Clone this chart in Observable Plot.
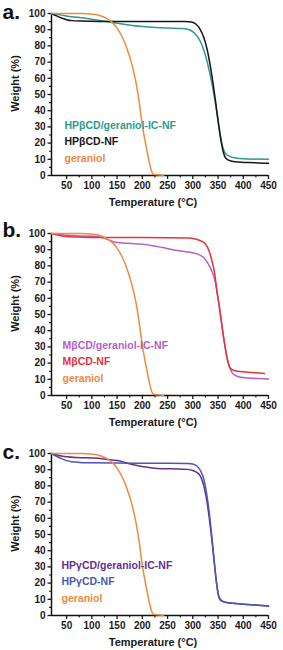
<!DOCTYPE html>
<html><head><meta charset="utf-8">
<script src="https://cdn.jsdelivr.net/npm/d3@7"></script>
<script src="https://cdn.jsdelivr.net/npm/@observablehq/plot@0.6"></script>
<style>
body{margin:0;background:#fff;width:283px;overflow:hidden;}
svg{display:block;overflow:visible;}
</style>
</head><body><div id="chart"></div>
<script>
// ---- tick labels ----
const xTicks = [50,100,150,200,250,300,350,400,450];
const xMinor = [75,125,175,225,275,325,375,425];
const yTicks = [0,10,20,30,40,50,60,70,80,90,100];
const yMinor = [5,15,25,35,45,55,65,75,85,95];
const xTitle = "Temperature (°C)";
const yTitle = "Weight (%)";

// ---- series (temperature °C, weight %) ----
const geraniol = [[20,100],[50,100],[80,100],[100,99.6],[110,99.2],[120,98.3],[130,96.8],[140,94.5],[150,91],[160,85.5],[170,78],[178,70],[185,61],[191,51],[196,40],[200,31],[205,22],[210,14],[214,8],[218,3],[222,0.8],[230,0.4],[242,0.2]];

const hpbcdIC = [[20,100],[40,99],[60,98],[80,97.4],[100,96.5],[120,95.5],[140,94.5],[160,93.5],[180,92.6],[200,92],[220,91.5],[250,91],[280,90.7],[293,90],[303,88],[312,84.5],[320,79],[327,72],[333,64],[339,55],[344,46],[349,36],[354,26],[359,18],[364,14],[372,12],[385,10.8],[400,10.3],[450,10]];
const hpbcdNF = [[20,100],[30,98.5],[40,97.2],[50,96.2],[60,95.6],[80,95.3],[100,95.2],[150,95],[200,95],[250,95],[285,95],[297,94.7],[306,93.5],[314,90.5],[322,85],[329,77],[335,67],[340,57],[345,46],[350,34],[355,23],[360,15],[366,10.5],[375,9],[390,8.3],[410,8],[450,7.5]];

const mbcdIC = [[20,100],[40,99.3],[60,98.8],[80,98.5],[100,98.3],[115,97.8],[125,97],[135,95.8],[145,94.8],[160,94.2],[180,93.8],[200,93.3],[220,92.5],[240,91.3],[260,90],[280,89],[300,88],[312,87],[322,85],[330,81.5],[338,76.5],[344,71],[348,64],[352,56],[356,47],[360,38],[364,30],[368,23],[373,17.5],[378,14],[385,12.3],[395,11.3],[420,10.6],[450,10.2]];
const mbcdNF = [[20,100],[30,99.2],[40,98.5],[50,98.1],[70,97.8],[100,97.6],[150,97.5],[200,97.5],[250,97.4],[290,97.2],[305,96.6],[315,95.5],[325,93.5],[332,89.5],[338,83],[343,76],[348,64],[352,56],[356,47],[360,38],[364,30],[368,23],[373,17.5],[378,16],[388,15],[405,14.5],[425,14],[442,13.5]];

const hpgcdIC = [[20,100],[35,98.8],[50,98],[70,97.5],[100,97.2],[120,96.8],[140,96],[160,95],[170,94],[180,93.2],[200,92],[220,91],[240,90.6],[270,90.5],[290,90.2],[300,89.5],[308,88.3],[315,86],[321,81],[326,74],[331,64],[335,54],[339,43],[343,31],[347,20],[351,12],[356,9],[370,7.8],[400,7],[430,6.3],[450,5.8]];
const hpgcdNF = [[20,100],[30,98.3],[40,96.8],[50,95.6],[60,94.9],[75,94.5],[100,94.3],[150,94.1],[200,94],[250,94],[290,93.9],[300,93.5],[308,92.3],[315,89.5],[322,84],[327,76],[332,65],[336,54],[340,42],[344,29],[348,18],[352,11.5],[358,9],[370,7.8],[400,7],[430,6.3],[450,5.8]];

// ---- panels ----
const panels = [
  {tag:"a.", height:220, top:13, tagDy:-1, legDx:13, series:[
    {name:"HPβCD/geraniol-IC-NF", color:"#2e9a8b", data:hpbcdIC},
    {name:"HPβCD-NF", color:"#161616", data:hpbcdNF},
    {name:"geraniol", color:"#f08a3e", data:geraniol}]},
  {tag:"b.", height:220, top:13, tagDy:-3.5, legDx:11, series:[
    {name:"MβCD/geraniol-IC-NF", color:"#b35fc6", data:mbcdIC},
    {name:"MβCD-NF", color:"#e3343d", data:mbcdNF},
    {name:"geraniol", color:"#f08a3e", data:geraniol}]},
  {tag:"c.", height:210, top:13, tagDy:-1, legDx:10, series:[
    {name:"HPγCD/geraniol-IC-NF", color:"#6a2d8d", data:hpgcdIC},
    {name:"HPγCD-NF", color:"#4b58b2", data:hpgcdNF},
    {name:"geraniol", color:"#f08a3e", data:geraniol}]}
];

const FONT = "'Liberation Sans', Arial, Helvetica, sans-serif";
const frameH = 162;

for (const p of panels) {
  const lines = p.series.map(s => Plot.line(s.data, {x:d=>d[0], y:d=>d[1], stroke:s.color, strokeWidth:1.5, curve:"monotone-x"}));
  const legend = p.series.map((s,i) => Plot.text([s.name], {frameAnchor:"bottom-left", dx:p.legDx, dy:-50 + i*16.5, text:d=>d, fill:s.color, fontSize:10.5, fontWeight:"bold", textAnchor:"start", lineAnchor:"middle"}));
  const svg = Plot.plot({
    width:283, height:p.height,
    marginTop:p.top, marginBottom:p.height - p.top - frameH, marginLeft:51, marginRight:15,
    x:{domain:[20,450]}, y:{domain:[0,100]},
    style:{fontFamily:FONT, fontWeight:"bold", fontSize:"10px", color:"#1a1a1a", background:"#fff", overflow:"visible"},
    marks:[
      Plot.axisX({ticks:xTicks, tickSize:4, tickPadding:2.5, label:null, strokeWidth:1.3, fontSize:10}),
      Plot.axisX({ticks:xMinor, tickSize:2.5, tickFormat:()=>"", label:null, strokeWidth:1.1}),
      Plot.axisY({ticks:yTicks, tickSize:3.5, tickPadding:2.5, label:null, strokeWidth:1.3, fontSize:10}),
      Plot.axisY({ticks:yMinor, tickSize:2, tickFormat:()=>"", label:null, strokeWidth:1.1}),
      Plot.ruleY([0], {stroke:"#111", strokeWidth:1.5}),
      Plot.ruleX([20], {stroke:"#111", strokeWidth:1.5}),
      ...lines,
      ...legend,
      Plot.text([xTitle], {frameAnchor:"bottom", dy:27, dx:-7, text:d=>d, fontSize:11, fontWeight:"bold", fill:"#1a1a1a", textAnchor:"middle", lineAnchor:"middle"}),
      Plot.text([yTitle], {frameAnchor:"left", dx:-36, dy:-11, rotate:-90, text:d=>d, fontSize:11, fontWeight:"bold", fill:"#1a1a1a", textAnchor:"middle", lineAnchor:"middle"}),
      Plot.text([p.tag], {frameAnchor:"top-left", dx:-49, dy:p.tagDy, text:d=>d, fontSize:21, fontWeight:"bold", fill:"#111", textAnchor:"start", lineAnchor:"middle"})
    ]
  });
  document.getElementById("chart").appendChild(svg);
}
</script>
</body></html>
